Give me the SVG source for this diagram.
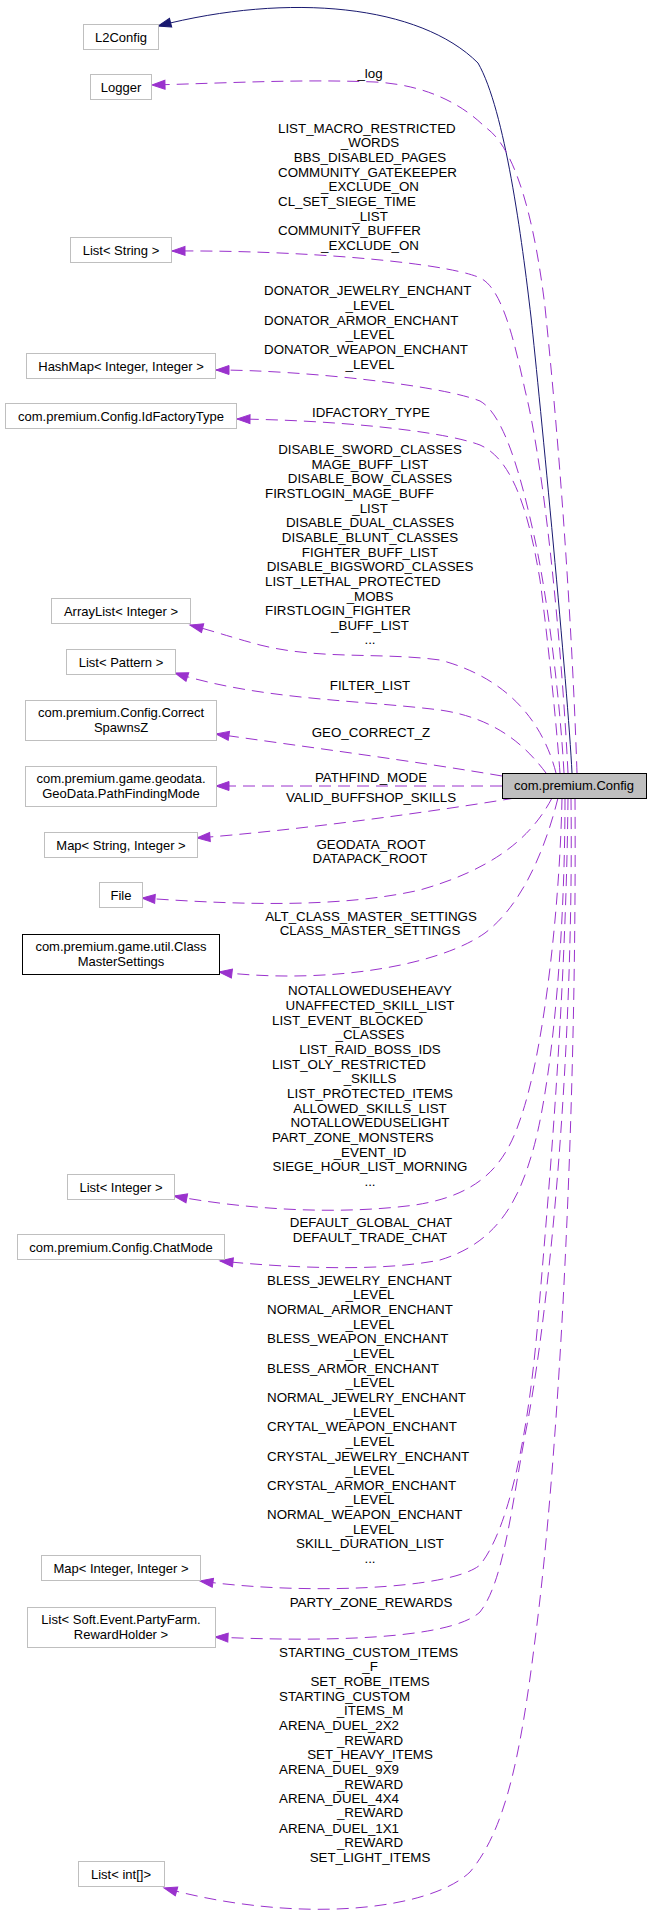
<svg xmlns="http://www.w3.org/2000/svg" width="648" height="1921" viewBox="0 0 648 1921">
<style>
text{font-family:"Liberation Sans",Arial,Helvetica,sans-serif;fill:#000}
.n text{font-size:13px;text-anchor:middle}
.lb text{font-size:13.33px}
.c{text-anchor:middle}
.l{text-anchor:start}
.box{fill:#fff;stroke:#bfbfbf;stroke-width:1}
.doc{fill:#fff;stroke:#000;stroke-width:1}
.main{fill:#bfbfbf;stroke:#000;stroke-width:1}
.e{fill:none;stroke:#9a32cd;stroke-width:1;stroke-dasharray:12,7;marker-end:url(#ap)}
.inh{fill:none;stroke:#191970;stroke-width:1;marker-end:url(#an)}
</style>
<defs>
<marker id="ap" markerUnits="userSpaceOnUse" viewBox="0 0 13 9" markerWidth="13" markerHeight="9" refX="13" refY="4.5" orient="auto" overflow="visible"><path d="M0,0 L13,4.5 L0,9 z" fill="#9a32cd" stroke="#9a32cd"/></marker>
<marker id="an" markerUnits="userSpaceOnUse" viewBox="0 0 13 9" markerWidth="13" markerHeight="9" refX="13" refY="4.5" orient="auto" overflow="visible"><path d="M0,0 L13,4.5 L0,9 z" fill="#191970" stroke="#191970"/></marker>
</defs>
<rect width="648" height="1921" fill="#fff"/>
<g id="connectors">
<g id="e-l2config"><path class="inh" d="M572,773 C568,690 540,400 531,317 C522,240 505,110 478,63 C420,5 290,-8 158,26"/></g>
<g id="e-logger" class="lb"><path class="e" d="M577,773 C574,680 565,500 545,307 C537,240 520,150 485,127 C465,107 430,85 375,82 C300,79 230,83 152,85"/>
<text class="c" x="370" y="78">_log</text></g>
<g id="e-liststring" class="lb"><path class="e" d="M568,773 C562,650 545,470 525,390 C512,330 500,285 478,277 C440,262 300,250 172,251"/>
<text class="l" x="278" y="133">LIST_MACRO_RESTRICTED</text>
<text class="c" x="370" y="147">_WORDS</text>
<text class="c" x="370" y="162">BBS_DISABLED_PAGES</text>
<text class="l" x="278" y="177">COMMUNITY_GATEKEEPER</text>
<text class="c" x="370" y="191">_EXCLUDE_ON</text>
<text class="l" x="278" y="206">CL_SET_SIEGE_TIME</text>
<text class="c" x="370" y="221">_LIST</text>
<text class="l" x="278" y="235">COMMUNITY_BUFFER</text>
<text class="c" x="370" y="250">_EXCLUDE_ON</text></g>
<g id="e-hashmap" class="lb"><path class="e" d="M564,773 C560,700 548,600 535,540 C522,480 505,415 480,401 C440,385 300,370 216,370"/>
<text class="l" x="264" y="295">DONATOR_JEWELRY_ENCHANT</text>
<text class="c" x="370" y="310">_LEVEL</text>
<text class="l" x="264" y="325">DONATOR_ARMOR_ENCHANT</text>
<text class="c" x="370" y="339">_LEVEL</text>
<text class="l" x="264" y="354">DONATOR_WEAPON_ENCHANT</text>
<text class="c" x="370" y="369">_LEVEL</text></g>
<g id="e-idfactory" class="lb"><path class="e" d="M560,773 C556,720 548,640 540,580 C530,520 515,460 480,445 C440,430 330,420 237,419"/>
<text class="c" x="371" y="417">IDFACTORY_TYPE</text></g>
<g id="e-arraylist" class="lb"><path class="e" d="M556,773 C545,730 515,680 440,660 C380,652 320,660 260,645 C230,637 210,630 190,625"/>
<text class="c" x="370" y="454">DISABLE_SWORD_CLASSES</text>
<text class="c" x="370" y="469">MAGE_BUFF_LIST</text>
<text class="c" x="370" y="483">DISABLE_BOW_CLASSES</text>
<text class="l" x="265" y="498">FIRSTLOGIN_MAGE_BUFF</text>
<text class="c" x="370" y="513">_LIST</text>
<text class="c" x="370" y="527">DISABLE_DUAL_CLASSES</text>
<text class="c" x="370" y="542">DISABLE_BLUNT_CLASSES</text>
<text class="c" x="370" y="557">FIGHTER_BUFF_LIST</text>
<text class="c" x="370" y="571">DISABLE_BIGSWORD_CLASSES</text>
<text class="l" x="265" y="586">LIST_LETHAL_PROTECTED</text>
<text class="c" x="370" y="601">_MOBS</text>
<text class="l" x="265" y="615">FIRSTLOGIN_FIGHTER</text>
<text class="c" x="370" y="630">_BUFF_LIST</text>
<text class="c" x="370" y="644">...</text></g>
<g id="e-listpattern" class="lb"><path class="e" d="M546,773 C525,745 495,718 440,710 C360,700 260,700 175,673"/>
<text class="c" x="370" y="690">FILTER_LIST</text></g>
<g id="e-correctspawnsz" class="lb"><path class="e" d="M502,776 C420,762 300,746 216,734"/>
<text class="c" x="371" y="737">GEO_CORRECT_Z</text></g>
<g id="e-pathfinding" class="lb"><path class="e" d="M502,786 L216,786"/>
<text class="c" x="371" y="782">PATHFIND_MODE</text></g>
<g id="e-mapstring" class="lb"><path class="e" d="M515,798 C430,812 300,830 197,838"/>
<text class="c" x="371" y="802">VALID_BUFFSHOP_SKILLS</text></g>
<g id="e-file" class="lb"><path class="e" d="M552,798 C530,840 490,870 420,890 C340,908 240,905 142,898"/>
<text class="c" x="371" y="849">GEODATA_ROOT</text>
<text class="c" x="370" y="863">DATAPACK_ROOT</text></g>
<g id="e-classmaster" class="lb"><path class="e" d="M558,798 C545,850 522,905 485,933 C440,965 330,985 219,972"/>
<text class="c" x="371" y="921">ALT_CLASS_MASTER_SETTINGS</text>
<text class="c" x="370" y="935">CLASS_MASTER_SETTINGS</text></g>
<g id="e-listinteger" class="lb"><path class="e" d="M562,798 C560,900 545,1050 520,1120 C505,1165 480,1195 415,1205 C340,1215 250,1210 174,1196"/>
<text class="c" x="370" y="995">NOTALLOWEDUSEHEAVY</text>
<text class="c" x="370" y="1010">UNAFFECTED_SKILL_LIST</text>
<text class="l" x="272" y="1025">LIST_EVENT_BLOCKED</text>
<text class="c" x="370" y="1039">_CLASSES</text>
<text class="c" x="370" y="1054">LIST_RAID_BOSS_IDS</text>
<text class="l" x="272" y="1069">LIST_OLY_RESTRICTED</text>
<text class="c" x="370" y="1083">_SKILLS</text>
<text class="c" x="370" y="1098">LIST_PROTECTED_ITEMS</text>
<text class="c" x="370" y="1113">ALLOWED_SKILLS_LIST</text>
<text class="c" x="370" y="1127">NOTALLOWEDUSELIGHT</text>
<text class="l" x="272" y="1142">PART_ZONE_MONSTERS</text>
<text class="c" x="370" y="1157">_EVENT_ID</text>
<text class="c" x="370" y="1171">SIEGE_HOUR_LIST_MORNING</text>
<text class="c" x="370" y="1186">...</text></g>
<g id="e-chatmode" class="lb"><path class="e" d="M565,798 C565,950 550,1100 530,1160 C515,1210 490,1245 440,1260 C380,1272 290,1268 220,1261"/>
<text class="c" x="371" y="1227">DEFAULT_GLOBAL_CHAT</text>
<text class="c" x="370" y="1242">DEFAULT_TRADE_CHAT</text></g>
<g id="e-mapinteger" class="lb"><path class="e" d="M568,798 C566,1000 548,1200 538,1320 C528,1440 508,1530 480,1565 C450,1590 300,1595 200,1581"/>
<text class="l" x="267" y="1285">BLESS_JEWELRY_ENCHANT</text>
<text class="c" x="370" y="1299">_LEVEL</text>
<text class="l" x="267" y="1314">NORMAL_ARMOR_ENCHANT</text>
<text class="c" x="370" y="1329">_LEVEL</text>
<text class="l" x="267" y="1343">BLESS_WEAPON_ENCHANT</text>
<text class="c" x="370" y="1358">_LEVEL</text>
<text class="l" x="267" y="1373">BLESS_ARMOR_ENCHANT</text>
<text class="c" x="370" y="1387">_LEVEL</text>
<text class="l" x="267" y="1402">NORMAL_JEWELRY_ENCHANT</text>
<text class="c" x="370" y="1417">_LEVEL</text>
<text class="l" x="267" y="1431">CRYTAL_WEAPON_ENCHANT</text>
<text class="c" x="370" y="1446">_LEVEL</text>
<text class="l" x="267" y="1461">CRYSTAL_JEWELRY_ENCHANT</text>
<text class="c" x="370" y="1475">_LEVEL</text>
<text class="l" x="267" y="1490">CRYSTAL_ARMOR_ENCHANT</text>
<text class="c" x="370" y="1504">_LEVEL</text>
<text class="l" x="267" y="1519">NORMAL_WEAPON_ENCHANT</text>
<text class="c" x="370" y="1534">_LEVEL</text>
<text class="c" x="370" y="1548">SKILL_DURATION_LIST</text>
<text class="c" x="370" y="1563">...</text></g>
<g id="e-rewardholder" class="lb"><path class="e" d="M571,798 C574,1050 550,1300 528,1420 C512,1500 505,1580 480,1612 C450,1640 320,1642 215,1637"/>
<text class="c" x="371" y="1607">PARTY_ZONE_REWARDS</text></g>
<g id="e-listintarr" class="lb"><path class="e" d="M575,798 C577,1100 560,1450 535,1640 C520,1760 505,1830 470,1872 C430,1910 300,1925 164,1888"/>
<text class="l" x="279" y="1657">STARTING_CUSTOM_ITEMS</text>
<text class="c" x="370" y="1671">_F</text>
<text class="c" x="370" y="1686">SET_ROBE_ITEMS</text>
<text class="l" x="279" y="1701">STARTING_CUSTOM</text>
<text class="c" x="370" y="1715">_ITEMS_M</text>
<text class="l" x="279" y="1730">ARENA_DUEL_2X2</text>
<text class="c" x="370" y="1745">_REWARD</text>
<text class="c" x="370" y="1759">SET_HEAVY_ITEMS</text>
<text class="l" x="279" y="1774">ARENA_DUEL_9X9</text>
<text class="c" x="370" y="1789">_REWARD</text>
<text class="l" x="279" y="1803">ARENA_DUEL_4X4</text>
<text class="c" x="370" y="1817">_REWARD</text>
<text class="l" x="279" y="1833">ARENA_DUEL_1X1</text>
<text class="c" x="370" y="1847">_REWARD</text>
<text class="c" x="370" y="1862">SET_LIGHT_ITEMS</text></g>
</g>
<g id="nodes" class="n">
<g id="n-l2config"><rect class="box" x="83.5" y="24.5" width="75" height="25"/><text x="121" y="41.5">L2Config</text></g>
<g id="n-logger"><rect class="box" x="90.5" y="74.5" width="61" height="25"/><text x="121" y="91.5">Logger</text></g>
<g id="n-liststring"><rect class="box" x="70.5" y="237.5" width="101" height="25"/><text x="121" y="254.5">List&lt; String &gt;</text></g>
<g id="n-hashmap"><rect class="box" x="26.5" y="353.5" width="189" height="25"/><text x="121" y="370.5">HashMap&lt; Integer, Integer &gt;</text></g>
<g id="n-idfactory"><rect class="box" x="5.5" y="403.5" width="231" height="25"/><text x="121" y="420.5">com.premium.Config.IdFactoryType</text></g>
<g id="n-arraylist"><rect class="box" x="51.5" y="598.5" width="139" height="25"/><text x="121" y="615.5">ArrayList&lt; Integer &gt;</text></g>
<g id="n-listpattern"><rect class="box" x="66.5" y="649.5" width="109" height="25"/><text x="121" y="666.5">List&lt; Pattern &gt;</text></g>
<g id="n-correctspawnsz"><rect class="box" x="25.5" y="700.5" width="191" height="40"/><text x="121" y="717">com.premium.Config.Correct</text><text x="121" y="732">SpawnsZ</text></g>
<g id="n-pathfinding"><rect class="box" x="25.5" y="766.5" width="191" height="40"/><text x="121" y="783">com.premium.game.geodata.</text><text x="121" y="798">GeoData.PathFindingMode</text></g>
<g id="n-mapstring"><rect class="box" x="44.5" y="832.5" width="153" height="25"/><text x="121" y="849.5">Map&lt; String, Integer &gt;</text></g>
<g id="n-file"><rect class="box" x="99.5" y="882.5" width="43" height="25"/><text x="121" y="899.5">File</text></g>
<g id="n-classmaster"><rect class="doc" x="22.5" y="934.5" width="197" height="40"/><text x="121" y="951">com.premium.game.util.Class</text><text x="121" y="966">MasterSettings</text></g>
<g id="n-listinteger"><rect class="box" x="67.5" y="1174.5" width="107" height="25"/><text x="121" y="1191.5">List&lt; Integer &gt;</text></g>
<g id="n-chatmode"><rect class="box" x="17.5" y="1234.5" width="207" height="25"/><text x="121" y="1251.5">com.premium.Config.ChatMode</text></g>
<g id="n-mapinteger"><rect class="box" x="41.5" y="1555.5" width="159" height="25"/><text x="121" y="1572.5">Map&lt; Integer, Integer &gt;</text></g>
<g id="n-rewardholder"><rect class="box" x="27.5" y="1607.5" width="188" height="40"/><text x="121" y="1624">List&lt; Soft.Event.PartyFarm.</text><text x="121" y="1639">RewardHolder &gt;</text></g>
<g id="n-listintarr"><rect class="box" x="78.5" y="1861.5" width="86" height="25"/><text x="121" y="1878.5">List&lt; int[]&gt;</text></g>
<g id="n-config"><rect class="main" x="502.5" y="773.5" width="144" height="25"/><text x="574" y="790">com.premium.Config</text></g>
</g>
</svg>
